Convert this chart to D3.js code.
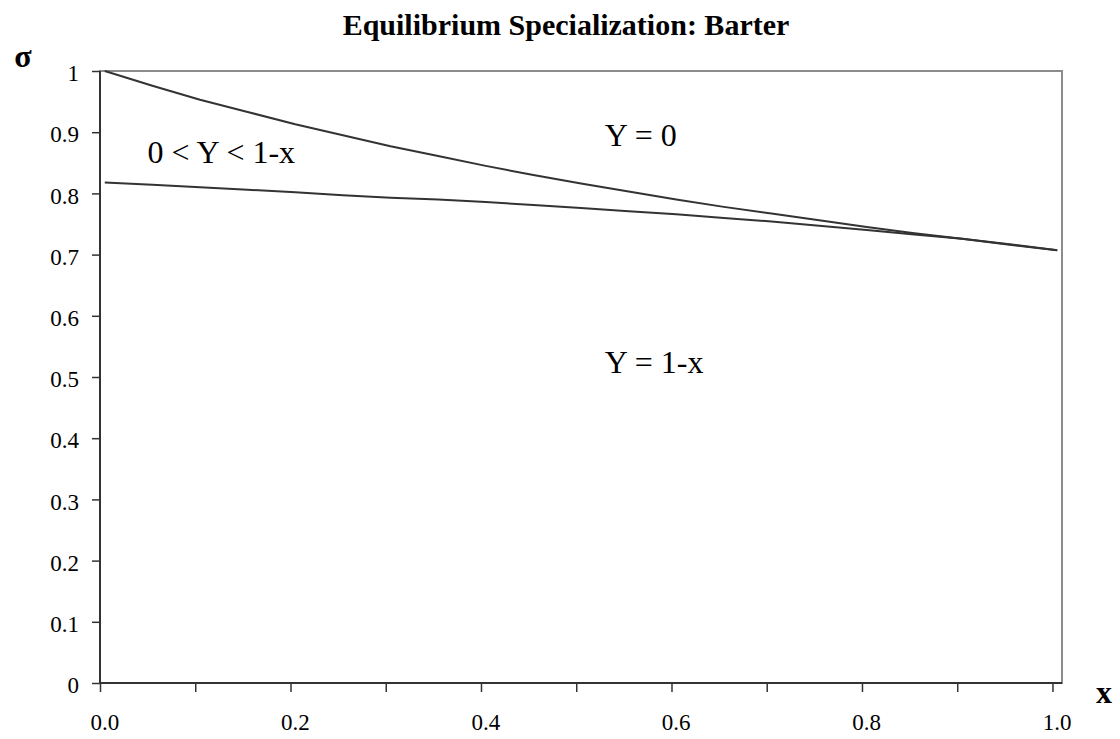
<!DOCTYPE html>
<html>
<head>
<meta charset="utf-8">
<script src="https://cdn.jsdelivr.net/npm/d3@7"></script>
<style>
  body { margin: 0; background: #fff; }
  svg { display: block; font-family: "Liberation Serif", "Times New Roman", serif; }
</style>
</head>
<body>
<div id="chart"></div>
<script>
// x values (share of x), and the two equilibrium boundaries
const xValues = [0.00, 0.05, 0.10, 0.15, 0.20, 0.25, 0.30, 0.35, 0.40, 0.45, 0.50,
                 0.55, 0.60, 0.65, 0.70, 0.75, 0.80, 0.85, 0.90, 0.95, 1.00];
const upperSigma = [1.000, 0.976, 0.953, 0.933, 0.913, 0.895, 0.877, 0.861, 0.845, 0.830, 0.816,
                    0.803, 0.790, 0.778, 0.767, 0.756, 0.745, 0.735, 0.726, 0.716, 0.707];
const lowerSigma = [0.818, 0.814, 0.810, 0.806, 0.802, 0.797, 0.793, 0.790, 0.786, 0.781, 0.776,
                    0.771, 0.766, 0.760, 0.754, 0.747, 0.740, 0.733, 0.726, 0.717, 0.707];
const yTickValues = [0, 0.1, 0.2, 0.3, 0.4, 0.5, 0.6, 0.7, 0.8, 0.9, 1];
const xLabelValues = [0.0, 0.2, 0.4, 0.6, 0.8, 1.0];
const regionLabels = [
    { text: "0 < Y < 1-x", x: 0.045, y: 0.850 },
    { text: "Y = 0", x: 0.525, y: 0.878 },
    { text: "Y = 1-x", x: 0.525, y: 0.506 }
];

(function() {
    const width = 1120, height = 739;
    const plot = { left: 100, right: 1062, top: 71, bottom: 683 };

    const svg = d3.select("#chart").append("svg")
        .attr("width", width)
        .attr("height", height);

    svg.append("rect").attr("width", width).attr("height", height).attr("fill", "#fff");

    // category-style x axis: points sit in the middle of each slot
    const x = d3.scaleLinear().domain([-0.005, 1.005]).range([plot.left, plot.right]);
    const y = d3.scaleLinear().domain([0, 1]).range([plot.bottom, plot.top]);

    // title
    svg.append("text")
        .attr("x", 566)
        .attr("y", 35)
        .attr("text-anchor", "middle")
        .style("font-weight", "bold")
        .style("font-size", "30px")
        .text("Equilibrium Specialization: Barter");

    // plot frame (top and right in gray)
    svg.append("rect")
        .attr("x", plot.left).attr("y", plot.top)
        .attr("width", plot.right - plot.left).attr("height", plot.bottom - plot.top)
        .attr("fill", "none")
        .attr("stroke", "#8c8c8c")
        .attr("stroke-width", 2);

    // y axis
    const yAxis = svg.append("g")
        .attr("transform", `translate(${plot.left},0)`)
        .call(d3.axisLeft(y).tickValues(yTickValues).tickSize(8).tickPadding(13)
            .tickFormat(d3.format(".1~f")));

    // x axis: ticks on slot edges, labels on slot centres
    const xTickValues = d3.range(11).map(i => i / 10 - 0.005);
    const xAxis = svg.append("g")
        .attr("transform", `translate(0,${plot.bottom})`)
        .call(d3.axisBottom(x).tickValues(xTickValues).tickSize(9).tickFormat(""));

    [yAxis, xAxis].forEach(ax => {
        ax.select(".domain").attr("stroke", "#333").attr("stroke-width", 2);
        ax.selectAll(".tick line").attr("stroke", "#333").attr("stroke-width", 1.5);
    });
    yAxis.select(".domain").attr("d", `M0,${plot.bottom}V${plot.top}`);
    xAxis.select(".domain").attr("d", `M${plot.left},0H${plot.right}`);
    yAxis.selectAll(".tick text")
        .attr("fill", "#000")
        .style("font-size", "23px")
        .style("font-family", "'Liberation Serif', serif")
        .attr("dy", "0.42em");

    svg.append("g").selectAll("text")
        .data(xLabelValues)
        .join("text")
        .attr("x", d => x(d))
        .attr("y", 730)
        .attr("text-anchor", "middle")
        .style("font-size", "23px")
        .text(d3.format(".1f"));

    // axis symbols
    svg.append("text")
        .attr("x", 23).attr("y", 67)
        .attr("text-anchor", "middle")
        .style("font-weight", "bold")
        .style("font-size", "32px")
        .text("σ");

    svg.append("text")
        .attr("x", 1104).attr("y", 703)
        .attr("text-anchor", "middle")
        .style("font-weight", "bold")
        .style("font-size", "32px")
        .text("x");

    // boundary curves
    const line = d3.line()
        .x((d, i) => x(xValues[i]))
        .y(d => y(d));

    [upperSigma, lowerSigma].forEach(series => {
        svg.append("path")
            .datum(series)
            .attr("d", line)
            .attr("fill", "none")
            .attr("stroke", "#333")
            .attr("stroke-width", 2);
    });

    // region annotations
    svg.append("g").selectAll("text")
        .data(regionLabels)
        .join("text")
        .attr("x", d => x(d.x))
        .attr("y", d => y(d.y))
        .style("font-size", "32px")
        .text(d => d.text);
})();
</script>
</body>
</html>
